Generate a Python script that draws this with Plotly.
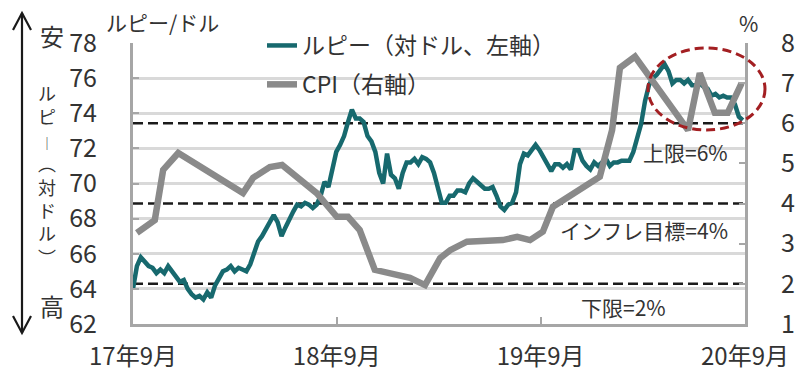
import plotly.graph_objects as go
import pandas as pd

# ---------------- data ----------------
rupee_start = "2017-09-01"          # weekly USD/INR (left axis)
rupee_weekly = [
    64.0, 65.3, 65.8, 65.5, 65.3, 65.2, 64.9, 65.1, 64.9, 65.3,
    65.0, 64.6, 64.4, 64.5, 64.0, 63.7, 63.5, 63.6, 63.4, 63.8,
    63.5, 64.2, 64.6, 65.0, 65.1, 65.3, 65.0, 65.2, 65.1, 65.0,
    65.4, 66.0, 66.7, 67.0, 67.4, 67.8, 68.2, 67.8, 67.0, 67.5,
    68.0, 68.4, 68.8, 68.7, 68.9, 68.8, 68.6, 68.8, 69.3, 70.1,
    69.8, 70.7, 71.8, 72.2, 72.7, 73.5, 74.2, 73.7, 73.7, 73.5,
    72.7, 72.4, 71.8, 70.6, 70.0, 71.7, 70.5, 70.3, 69.7, 70.6,
    71.2, 71.2, 71.4, 71.1, 71.5, 71.4, 71.2, 70.6, 69.8, 68.9,
    68.9, 69.3, 69.3, 69.6, 69.6, 69.5, 70.0, 70.3, 70.1, 69.9,
    69.7, 69.7, 69.8, 69.3, 68.7, 68.5, 68.8, 68.9, 69.5, 71.1,
    71.7, 71.6, 71.9, 72.2, 71.9, 71.5, 71.0, 70.7, 71.1, 71.1,
    70.9, 71.1, 70.8, 71.9, 71.9, 71.3, 71.0, 70.8, 71.2, 71.0,
    71.2, 71.4, 71.0, 71.2, 71.2, 71.3, 71.3, 71.3, 71.8, 72.7,
    73.4, 74.7, 75.6, 76.0, 76.2, 76.5, 76.8, 76.4, 75.7, 75.9,
    75.9, 75.7, 75.9, 75.6, 75.6, 75.7, 75.5, 75.4, 75.0, 75.1,
    74.9, 75.0, 74.9, 74.9, 74.5, 73.8, 73.6,
]

cpi_dates = [
    "2017-09-08", "2017-10-10", "2017-10-25", "2017-11-21", "2018-03-17",
    "2018-04-04", "2018-05-04", "2018-05-26", "2018-07-27", "2018-09-01",
    "2018-09-21", "2018-10-12", "2018-11-08", "2019-01-10", "2019-02-06",
    "2019-03-05", "2019-03-23", "2019-04-22", "2019-06-25", "2019-07-21",
    "2019-08-13", "2019-09-05", "2019-09-23", "2019-12-16", "2020-01-07",
    "2020-01-21", "2020-02-17", "2020-05-22", "2020-06-12", "2020-07-09",
    "2020-08-01", "2020-08-26",
]
cpi_values = [
    3.27, 3.59, 4.84, 5.26, 4.26,
    4.64, 4.91, 4.96, 4.26, 3.67,
    3.67, 3.34, 2.35, 2.15, 1.97,
    2.64, 2.84, 3.05, 3.09, 3.17,
    3.09, 3.30, 3.92, 4.67, 5.83,
    7.38, 7.66, 5.83, 7.25, 6.26,
    6.26, 7.00,
]

band_levels = [6, 4, 2]
band_labels = ["上限=6%", "インフレ目標=4%", "下限=2%"]

x_tick_dates = ["2017-09-01", "2018-09-01", "2019-09-01", "2020-09-01"]
x_tick_labels = ["17年9月", "18年9月", "19年9月", "20年9月"]
left_ticks = [62, 64, 66, 68, 70, 72, 74, 76, 78]
right_ticks = [1, 2, 3, 4, 5, 6, 7, 8]

rupee_dates = pd.date_range(rupee_start, periods=len(rupee_weekly), freq="7D")

# ---------------- layout helpers ----------------
# the page has an 8px body margin on every side, so the figure is made
# 16px smaller than the 803x382 window to avoid any overflow
OFF = 8
W, H = 787, 366
ML, MR, MT, MB = 125, 50, 35, 50
PW, PH = W - ML - MR, H - MT - MB
FONT = "Noto Sans CJK JP"
TXT = "#333333"
FRAME = "#a6a6a6"
GRID = "#d9d9d9"


def fx(px):  # window pixel -> paper x
    return (px - OFF - ML) / PW


def fy(py):  # window pixel -> paper y
    return (H - MB - (py - OFF)) / PH


fig = go.Figure()
fig.add_trace(go.Scatter(
    x=rupee_dates, y=rupee_weekly, mode="lines",
    name="ルピー（対ドル、左軸）", legendgroup="a",
    line=dict(color="#17696e", width=4.5),
))
fig.add_trace(go.Scatter(
    x=pd.to_datetime(cpi_dates), y=cpi_values, mode="lines",
    name="CPI（右軸）", legendgroup="b", yaxis="y2",
    line=dict(color="#8a8a8a", width=6.5),
))

shapes = []
for lv in band_levels:
    shapes.append(dict(type="line", xref="paper", yref="y2", x0=0, x1=1,
                       y0=lv, y1=lv, layer="below",
                       line=dict(color="#1a1a1a", width=2.5, dash="10px,5px")))
# red dashed ellipse
shapes.append(dict(type="circle", xref="paper", yref="paper",
                   x0=fx(648), x1=fx(765), y0=fy(130), y1=fy(48),
                   line=dict(color="#a31f22", width=3, dash="9px,5px")))
# double arrow on the left
shapes.append(dict(type="line", xref="paper", yref="paper",
                   x0=fx(22), x1=fx(22), y0=fy(13), y1=fy(333),
                   line=dict(color="#1a1a1a", width=2.2)))
shapes.append(dict(type="path", xref="paper", yref="paper",
                   path=f"M{fx(13)},{fy(30)} L{fx(22)},{fy(13)} L{fx(31)},{fy(30)}",
                   line=dict(color="#1a1a1a", width=2.2)))
shapes.append(dict(type="path", xref="paper", yref="paper",
                   path=f"M{fx(13)},{fy(316)} L{fx(22)},{fy(333)} L{fx(31)},{fy(316)}",
                   line=dict(color="#1a1a1a", width=2.2)))

ann = []
band_pos = [(730, 152), (730, 230), (668, 307)]
for (bx, by), txt in zip(band_pos, band_labels):
    ann.append(dict(xref="paper", yref="paper", x=fx(bx), y=fy(by), text=txt,
                    showarrow=False, xanchor="right", yanchor="middle",
                    font=dict(family=FONT, size=21, color=TXT)))
ann.append(dict(xref="paper", yref="paper", x=fx(104), y=fy(22), text="ルピー/ドル",
                showarrow=False, xanchor="left", yanchor="middle",
                font=dict(family=FONT, size=21, color=TXT)))
ann.append(dict(xref="paper", yref="paper", x=fx(748), y=fy(23), text="%",
                showarrow=False, xanchor="center", yanchor="middle",
                font=dict(family=FONT, size=21, color=TXT)))
ann.append(dict(xref="paper", yref="paper", x=fx(52), y=fy(36), text="安",
                showarrow=False, xanchor="center", yanchor="middle",
                font=dict(family=FONT, size=24, color=TXT)))
ann.append(dict(xref="paper", yref="paper", x=fx(52), y=fy(305), text="高",
                showarrow=False, xanchor="center", yanchor="middle",
                font=dict(family=FONT, size=24, color=TXT)))
# vertical axis caption ルピー（対ドル） written top-to-bottom
ann.append(dict(xref="paper", yref="paper", x=fx(47), y=fy(175),
                text=("ル<br>ピ<br><span style='font-size:13px'>｜</span><br>"
                      "︵<br>対<br>ド<br>ル<br>︶"),
                showarrow=False, xanchor="center", yanchor="middle",
                align="center", font=dict(family=FONT, size=18, color=TXT)))

fig.update_layout(
    width=W, height=H,
    margin=dict(l=ML, r=MR, t=MT, b=MB, autoexpand=False),
    paper_bgcolor="white", plot_bgcolor="white",
    font=dict(family=FONT, color=TXT),
    shapes=shapes, annotations=ann,
    legend=dict(x=fx(262), y=fy(24), xanchor="left", yanchor="top",
                bgcolor="rgba(0,0,0,0)", tracegroupgap=6,
                font=dict(family=FONT, size=23, color=TXT)),
    xaxis=dict(type="date", range=["2017-09-01", "2020-09-01"], automargin=False,
               tickvals=x_tick_dates, ticktext=x_tick_labels,
               ticks="inside", ticklen=7, tickwidth=2, tickcolor=FRAME,
               showgrid=False, showline=True, linecolor=FRAME, linewidth=3,
               tickfont=dict(family=FONT, size=24, color=TXT),
               ticklabelstandoff=9),
    yaxis=dict(range=[62, 78], tickvals=left_ticks, automargin=False,
               ticks="inside", ticklen=6, tickwidth=2, tickcolor=FRAME,
               showgrid=True, gridcolor=GRID, gridwidth=2.5,
               showline=True, linecolor=FRAME, linewidth=3, zeroline=False,
               tickfont=dict(family=FONT, size=25, color=TXT),
               ticklabelstandoff=28),
    yaxis2=dict(range=[1, 8], tickvals=right_ticks, overlaying="y", side="right",
                automargin=False,
                ticks="inside", ticklen=6, tickwidth=2, tickcolor=FRAME,
                showgrid=False, showline=True, linecolor=FRAME, linewidth=3,
                zeroline=False,
                tickfont=dict(family=FONT, size=25, color=TXT),
                ticklabelstandoff=28),
)

fig.write_html("out.html")
